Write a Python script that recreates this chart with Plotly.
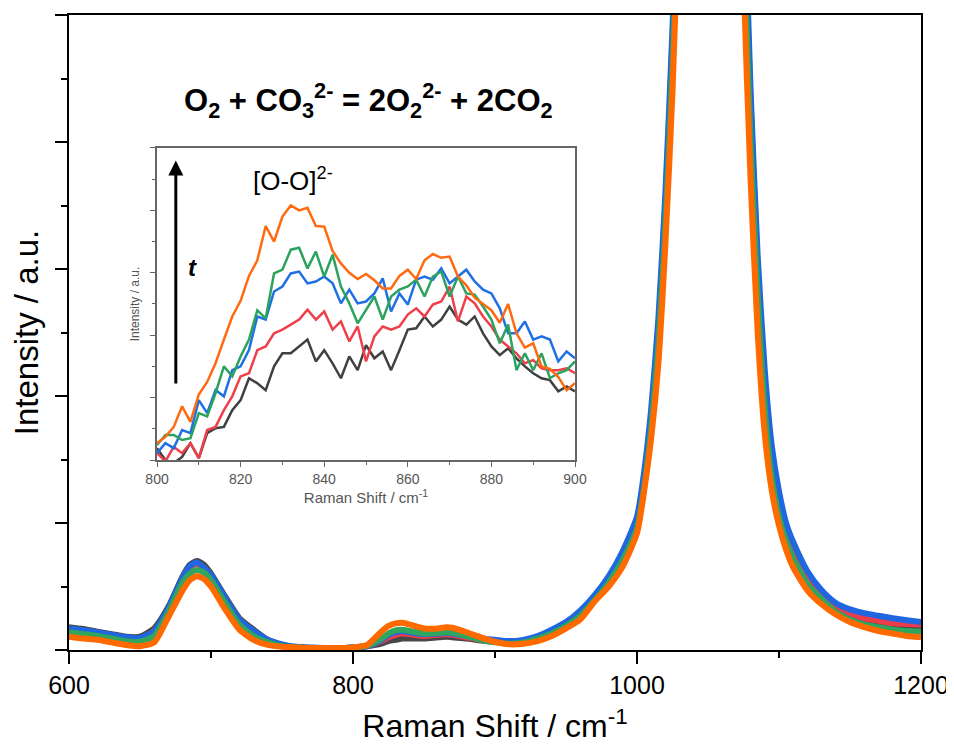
import plotly.graph_objects as go

# ---------------- main spectra (Raman shift, cm-1) ----------------
x_main = [600, 610, 620, 630, 640, 650, 660, 670, 680, 685, 690, 695, 700, 710, 720, 730, 740, 750,
          760, 770, 780, 790, 800, 810, 820, 825, 830, 835, 840, 850, 860, 866, 870, 880, 890, 900,
          910, 920, 930, 940, 950, 960, 970, 980, 990, 1000, 1005, 1010, 1015, 1020, 1025, 1030,
          1040, 1050, 1060, 1070, 1075, 1080, 1085, 1090, 1095, 1100, 1105, 1110, 1120, 1130, 1140,
          1150, 1160, 1170, 1180, 1190, 1200]

black_main = [0.18, 0.165, 0.145, 0.125, 0.105, 0.105, 0.17, 0.34, 0.58, 0.67, 0.70, 0.67, 0.60, 0.42, 0.25, 0.16, 0.08, 0.04,
              0.02, 0.015, 0.015, 0.015, 0.02, 0.03, 0.05, 0.07, 0.08, 0.09, 0.09, 0.09, 0.10, 0.105, 0.10, 0.09, 0.075, 0.065,
              0.06, 0.07, 0.09, 0.13, 0.19, 0.27, 0.39, 0.53, 0.72, 0.97, 1.3, 1.78, 2.45, 3.4, 4.7, 6.3,
              9.3, 11.3, 10.8, 8.0, 5.9, 4.2, 2.9, 2.0, 1.45, 1.12, 0.92, 0.78, 0.56, 0.42, 0.32,
              0.27, 0.23, 0.21, 0.19, 0.18, 0.17]
red_main = [0.16, 0.15, 0.135, 0.115, 0.095, 0.09, 0.15, 0.32, 0.56, 0.65, 0.68, 0.65, 0.58, 0.40, 0.23, 0.14, 0.07, 0.04,
            0.02, 0.015, 0.015, 0.015, 0.02, 0.03, 0.07, 0.10, 0.12, 0.13, 0.125, 0.11, 0.12, 0.125, 0.12, 0.10, 0.08, 0.07,
            0.06, 0.07, 0.10, 0.14, 0.20, 0.29, 0.41, 0.56, 0.75, 1.0, 1.35, 1.84, 2.52, 3.5, 4.8, 6.4,
            9.4, 11.4, 10.9, 8.1, 6.0, 4.3, 3.0, 2.1, 1.52, 1.18, 0.96, 0.81, 0.59, 0.44, 0.35,
            0.29, 0.25, 0.23, 0.21, 0.205, 0.20]
blue_main = [0.17, 0.155, 0.14, 0.12, 0.10, 0.095, 0.15, 0.33, 0.57, 0.66, 0.69, 0.65, 0.59, 0.41, 0.24, 0.15, 0.08, 0.045,
             0.025, 0.02, 0.015, 0.015, 0.02, 0.03, 0.08, 0.12, 0.14, 0.15, 0.14, 0.125, 0.13, 0.135, 0.13, 0.11, 0.09, 0.08,
             0.07, 0.08, 0.11, 0.16, 0.22, 0.31, 0.43, 0.58, 0.78, 1.05, 1.4, 1.9, 2.6, 3.6, 4.9, 6.5,
             9.5, 11.5, 11.0, 8.2, 6.2, 4.4, 3.1, 2.2, 1.6, 1.25, 1.0, 0.85, 0.62, 0.47, 0.37,
             0.32, 0.29, 0.27, 0.25, 0.235, 0.22]
green_main = [0.14, 0.125, 0.11, 0.09, 0.07, 0.065, 0.11, 0.30, 0.53, 0.60, 0.63, 0.61, 0.55, 0.37, 0.20, 0.11, 0.06, 0.03,
              0.02, 0.015, 0.015, 0.015, 0.02, 0.035, 0.09, 0.13, 0.155, 0.16, 0.15, 0.13, 0.135, 0.14, 0.135, 0.11, 0.08, 0.06,
              0.05, 0.06, 0.09, 0.13, 0.19, 0.27, 0.39, 0.53, 0.71, 0.96, 1.28, 1.75, 2.4, 3.35, 4.6, 6.2,
              9.2, 11.2, 10.7, 7.8, 5.7, 4.0, 2.8, 1.9, 1.35, 1.05, 0.86, 0.72, 0.52, 0.40, 0.30,
              0.24, 0.20, 0.18, 0.16, 0.15, 0.145]
orange_main = [0.105, 0.09, 0.08, 0.06, 0.04, 0.03, 0.06, 0.26, 0.47, 0.55, 0.58, 0.56, 0.50, 0.32, 0.16, 0.08, 0.04, 0.025,
               0.02, 0.015, 0.015, 0.015, 0.02, 0.04, 0.145, 0.19, 0.21, 0.215, 0.20, 0.17, 0.17, 0.18, 0.175, 0.14, 0.10, 0.065,
               0.045, 0.05, 0.07, 0.11, 0.17, 0.24, 0.38, 0.50, 0.66, 0.92, 1.25, 1.67, 2.25, 3.2, 4.4, 6.0,
               9.0, 11.0, 10.5, 7.5, 5.3, 3.7, 2.5, 1.7, 1.25, 0.98, 0.79, 0.65, 0.47, 0.36, 0.28,
               0.22, 0.18, 0.15, 0.13, 0.11, 0.10]

# ---------------- inset: [O-O]2- region ----------------
x_inset = [800, 802, 804, 806, 808, 810, 812, 814, 816, 818, 820, 822, 824, 826, 828, 830, 832, 834, 836,
           838, 840, 842, 844, 846, 848, 850, 852, 854, 856, 858, 860, 862, 864, 866, 868, 870, 872, 874,
           876, 878, 880, 882, 884, 886, 888, 890, 892, 894, 896, 898, 900]

black_inset = [0.19, 0.0, -0.05, 0.05, 0.27, 0.03, 0.43, 0.51, 0.53, 0.80, 0.96, 1.31, 1.23, 1.12, 1.50, 1.71, 1.71, 1.82, 1.93,
               1.58, 1.76, 1.55, 1.31, 1.66, 1.44, 1.84, 1.63, 1.74, 1.44, 1.76, 2.09, 2.11, 2.30, 2.14, 2.25, 2.46, 2.25, 2.17,
               2.30, 2.03, 1.82, 1.68, 1.79, 1.63, 1.50, 1.39, 1.31, 1.28, 1.10, 1.18, 1.10]
red_inset = [0.11, -0.02, 0.21, 0.11, 0.27, 0.03, 0.48, 0.53, 0.80, 1.02, 1.34, 1.39, 1.76, 1.82, 2.03, 2.09, 2.17, 2.25, 2.41,
             2.25, 2.38, 2.09, 2.22, 1.90, 2.14, 1.58, 1.98, 2.14, 2.09, 2.14, 2.33, 2.43, 2.30, 2.49, 2.54, 2.78, 2.22, 2.62,
             2.51, 2.30, 2.14, 1.93, 1.82, 1.71, 1.55, 1.60, 1.47, 1.44, 1.44, 1.47, 1.39]
blue_inset = [0.11, 0.27, 0.19, 0.48, 0.43, 0.96, 0.75, 1.12, 1.02, 1.44, 1.50, 1.76, 2.30, 2.25, 2.70, 2.78, 2.99, 3.02, 2.83,
              2.86, 2.94, 2.83, 2.51, 2.73, 2.51, 2.54, 2.67, 2.91, 2.38, 2.67, 2.49, 2.89, 2.94, 2.89, 3.07, 2.83, 2.94, 3.05,
              2.86, 2.73, 2.67, 2.43, 2.03, 2.03, 2.22, 1.93, 1.98, 1.93, 1.58, 1.74, 1.63]
green_inset = [0.24, 0.40, 0.40, 0.32, 0.35, 0.75, 0.70, 1.07, 1.50, 1.34, 1.66, 1.93, 2.40, 2.27, 2.99, 3.05, 3.37, 3.40, 3.07,
               3.34, 2.94, 3.29, 2.78, 2.51, 2.19, 2.41, 2.62, 2.25, 2.62, 2.73, 2.78, 2.89, 2.62, 2.94, 3.02, 2.62, 2.94, 2.67,
               2.65, 2.46, 2.25, 1.87, 2.17, 1.44, 1.71, 1.44, 1.71, 1.31, 1.39, 1.44, 1.58]
orange_inset = [0.27, 0.37, 0.53, 0.86, 0.61, 1.05, 1.25, 1.55, 1.93, 2.30, 2.55, 2.95, 3.20, 3.75, 3.50, 3.90, 4.08, 4.00, 4.04,
                3.75, 3.74, 3.35, 3.15, 3.00, 2.90, 2.98, 2.88, 2.75, 2.75, 2.95, 3.05, 2.90, 3.20, 3.30, 3.24, 3.26, 2.94, 2.80,
                2.60, 2.50, 2.40, 2.20, 2.50, 2.03, 1.80, 1.87, 1.50, 1.46, 1.33, 1.12, 1.23]

series_names = ["t0", "t1", "t2", "t3", "t4"]
main_colors = ["#474747", "#ec3c4c", "#1f66e0", "#2fa55e", "#ff6a00"]
inset_colors = ["#404040", "#ef3f4b", "#1f6fe5", "#2ca25f", "#ff6a10"]

FONT = "Liberation Sans, Arial, Helvetica, sans-serif"

fig = go.Figure()

main_sets = [black_main, red_main, blue_main, green_main, orange_main]
for name, ys, col in zip(series_names, main_sets, main_colors):
    fig.add_trace(go.Scatter(x=x_main, y=ys, mode="lines", name=name,
                             line=dict(color=col, width=6, shape="spline", smoothing=0.6),
                             xaxis="x", yaxis="y", showlegend=False, hoverinfo="skip"))

inset_sets = [black_inset, red_inset, blue_inset, green_inset, orange_inset]
for name, ys, col in zip(series_names, inset_sets, inset_colors):
    fig.add_trace(go.Scatter(x=x_inset, y=ys, mode="lines", name=name,
                             line=dict(color=col, width=2.5),
                             xaxis="x2", yaxis="y2", showlegend=False, hoverinfo="skip"))

# the page body has an 8px margin, so the figure is drawn 8px in from the window edge
fig.update_layout(
    template="none",
    width=946, height=739,
    margin=dict(l=61, r=33, t=7, b=97, autoexpand=False),
    paper_bgcolor="white", plot_bgcolor="white",
    font=dict(family=FONT, color="black"),
    xaxis=dict(range=[600, 1200], dtick=200, tick0=600, ticks="outside", ticklen=12, tickwidth=2,
               tickcolor="black", showline=True, linecolor="black", linewidth=2, mirror=True,
               showgrid=False, zeroline=False, automargin=False, tickfont=dict(size=25, family=FONT),
               minor=dict(dtick=100, ticks="outside", ticklen=6, tickwidth=2, tickcolor="black", showgrid=False),
               title=dict(text="Raman Shift / cm<sup>-1</sup>", font=dict(size=32, family=FONT), standoff=17)),
    yaxis=dict(range=[0, 5], dtick=1, tick0=0, ticks="outside", ticklen=12, tickwidth=2,
               tickcolor="black", showline=True, linecolor="black", linewidth=2, mirror=True,
               showgrid=False, zeroline=False, showticklabels=False, automargin=False,
               minor=dict(dtick=0.5, ticks="outside", ticklen=6, tickwidth=2, tickcolor="black", showgrid=False),
               title=dict(text="Intensity / a.u.", font=dict(size=33, family=FONT), standoff=20)),
    xaxis2=dict(domain=[0.1033, 0.5939], anchor="y2", range=[800, 900], dtick=20, tick0=800,
                ticks="outside", ticklen=5, tickwidth=1.2, tickcolor="#666", showline=True,
                linecolor="#666", linewidth=1.5, mirror=True, showgrid=False, zeroline=False, automargin=False,
                tickfont=dict(size=14, color="#555", family=FONT),
                minor=dict(dtick=10, ticks="outside", ticklen=3, tickwidth=1.2, tickcolor="#666", showgrid=False),
                title=dict(text="Raman Shift / cm<sup>-1</sup>", font=dict(size=15, color="#555", family=FONT), standoff=4)),
    yaxis2=dict(domain=[0.2992, 0.7906], anchor="x2", range=[0, 5], dtick=1, tick0=0,
                ticks="outside", ticklen=5, tickwidth=1.2, tickcolor="#666", showline=True,
                linecolor="#666", linewidth=1.5, mirror=True, showgrid=False, zeroline=False,
                showticklabels=False, automargin=False,
                minor=dict(dtick=0.5, ticks="outside", ticklen=3, tickwidth=1.2, tickcolor="#666", showgrid=False),
                title=dict(text="Intensity / a.u.", font=dict(size=12, color="#555", family=FONT), standoff=8)),
)

# equation
fig.add_annotation(x=811, y=4.33, xref="x", yref="y", showarrow=False,
                   text="<b>O<sub>2</sub> + CO<sub>3</sub><sup>2-</sup> = 2O<sub>2</sub><sup>2-</sup> + 2CO<sub>2</sub></b>",
                   font=dict(size=31, family=FONT, color="black"))
# inset labels
fig.add_annotation(x=832.5, y=4.5, xref="x2", yref="y2", showarrow=False,
                   text="[O-O]<sup>2-</sup>", font=dict(size=26, family=FONT, color="black"))
fig.add_annotation(x=808.6, y=3.08, xref="x2", yref="y2", showarrow=False,
                   text="<b><i>t</i></b>", font=dict(size=24, family=FONT, color="black"))
fig.add_annotation(x=804.5, y=4.8, ax=804.5, ay=1.2, xref="x2", yref="y2", axref="x2", ayref="y2",
                   showarrow=True, arrowhead=2, arrowsize=1, arrowwidth=3, arrowcolor="black", text="")

fig.write_html("out.html")
